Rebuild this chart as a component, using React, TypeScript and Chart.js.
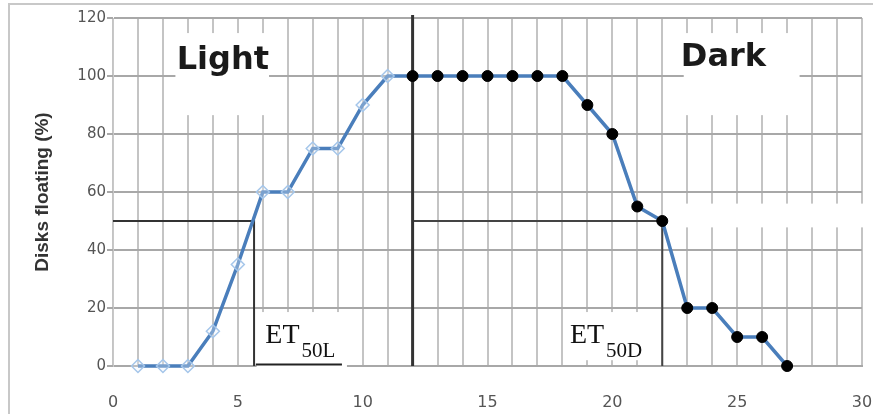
import React, { useEffect, useRef } from 'react';
import { Chart, registerables } from 'chart.js';

Chart.register(...registerables);

// ---- data ----
const timeLight = [1, 2, 3, 4, 5, 6, 7, 8, 9, 10, 11];
const floatLight = [0, 0, 0, 12, 35, 60, 60, 75, 75, 90, 100];
const timeDark = [12, 13, 14, 15, 16, 17, 18, 19, 20, 21, 22, 23, 24, 25, 26, 27];
const floatDark = [100, 100, 100, 100, 100, 100, 100, 90, 80, 55, 50, 20, 20, 10, 10, 0];
const xTickLabels = [0, 5, 10, 15, 20, 25, 30];
const yTickLabels = [0, 20, 40, 60, 80, 100, 120];
const lightsOffAt = 12;
const et50Light = 5.65;
const et50Dark = 22;
const halfFloat = 50;

const FONT = '"DejaVu Sans", sans-serif';

const labelPlugin = {
  id: 'labels',
  beforeDraw(chart: any) {
    const ctx = chart.ctx;
    ctx.save();
    ctx.fillStyle = '#c8c8c8';
    ctx.fillRect(8, 3, 2, 411);
    ctx.fillRect(8, 3, 865, 2);
    ctx.restore();
  },
  beforeDatasetsDraw(chart: any) {
    const ctx = chart.ctx;
    const xs = chart.scales.x;
    const ys = chart.scales.y;
    const box = (x0: number, x1: number, y0: number, y1: number) => {
      const px0 = xs.getPixelForValue(x0);
      const px1 = xs.getPixelForValue(x1);
      const py0 = ys.getPixelForValue(y0);
      const py1 = ys.getPixelForValue(y1);
      ctx.fillRect(px0, py1, px1 - px0, py0 - py1);
    };
    ctx.save();
    ctx.fillStyle = '#ffffff';
    box(2.5, 6.25, 86.5, 114.8);
    box(22.86, 27.5, 86.5, 114.8);
    box(5.75, 9.37, -1.2, 18.6);
    box(18.3, 21.2, 2, 18.6);
    box(22.15, 30.4, 47.8, 56);

    ctx.fillStyle = '#1a1a1a';
    ctx.font = 'bold 32px "DejaVu Sans", sans-serif';
    ctx.textAlign = 'center';
    ctx.textBaseline = 'alphabetic';
    ctx.fillText('Light', xs.getPixelForValue(4.4), ys.getPixelForValue(102.5));
    ctx.fillText('Dark', xs.getPixelForValue(24.45), ys.getPixelForValue(103.5));

    ctx.textAlign = 'left';
    const et = (x: number, sub: string) => {
      const px = xs.getPixelForValue(x);
      const py = ys.getPixelForValue(7.9);
      ctx.font = '28px "Liberation Serif", serif';
      ctx.fillText('ET', px, py);
      const w = ctx.measureText('ET').width;
      ctx.font = '21px "Liberation Serif", serif';
      ctx.fillText(sub, px + w + 2, py + 14);
    };
    ctx.fillStyle = '#111';
    et(6.1, '50L');
    et(18.3, '50D');
    ctx.restore();
  },
};

export default function App() {
  const ref = useRef<HTMLCanvasElement | null>(null);
  useEffect(() => {
    if (!ref.current) return;
    const lightPts = timeLight.map((t, i) => ({ x: t, y: floatLight[i] }));
    const darkPts = timeDark.map((t, i) => ({ x: t, y: floatDark[i] }));
    const chart = new Chart(ref.current, {
      type: 'scatter',
      data: {
        datasets: [
          {
            label: 'light markers',
            data: lightPts,
            showLine: false,
            pointStyle: 'rectRot',
            pointRadius: 6.5,
            pointBorderColor: '#a5c6ea',
            pointBackgroundColor: 'rgba(235,243,252,0.3)',
            pointBorderWidth: 1.5,
            order: 0,
          },
          {
            label: 'dark markers',
            data: darkPts,
            showLine: false,
            pointStyle: 'circle',
            pointRadius: 5.5,
            pointBorderColor: '#000',
            pointBackgroundColor: '#000',
            pointBorderWidth: 1,
            order: 0,
          },
          {
            label: 'curve',
            data: [...lightPts, ...darkPts],
            showLine: true,
            borderColor: '#4a7ebb',
            borderWidth: 3.5,
            pointRadius: 0,
            order: 1,
          },
          {
            label: 'lights off',
            data: [{ x: lightsOffAt, y: 0 }, { x: lightsOffAt, y: 121 }],
            showLine: true,
            borderColor: '#333',
            borderWidth: 3,
            pointRadius: 0,
            order: 2,
          },
          {
            label: 'ET50L',
            data: [{ x: 0, y: halfFloat }, { x: et50Light, y: halfFloat }, { x: et50Light, y: 0 }],
            showLine: true,
            borderColor: '#333',
            borderWidth: 2,
            pointRadius: 0,
            order: 2,
          },
          {
            label: 'ET50L underline',
            data: [{ x: 5.72, y: 0.5 }, { x: 9.17, y: 0.5 }],
            showLine: true,
            borderColor: '#222',
            borderWidth: 2,
            pointRadius: 0,
            order: 2,
          },
          {
            label: 'ET50D',
            data: [{ x: lightsOffAt, y: halfFloat }, { x: et50Dark, y: halfFloat }, { x: et50Dark, y: 0 }],
            showLine: true,
            borderColor: '#444',
            borderWidth: 2,
            pointRadius: 0,
            order: 2,
          },
        ],
      },
      options: {
        animation: false,
        responsive: true,
        maintainAspectRatio: false,
        clip: false as any,
        layout: { padding: { left: 0, right: 11, top: 18, bottom: 0 } },
        plugins: { legend: { display: false }, tooltip: { enabled: false } },
        scales: {
          x: {
            type: 'linear',
            min: 0,
            max: 30,
            afterFit: (s: any) => {
              s.height = 48;
              s.paddingLeft = 5;
              s.paddingRight = 9;
            },
            afterBuildTicks: (s: any) => {
              const t = [];
              for (let v = 0; v <= 30; v++) t.push({ value: v });
              s.ticks = t;
            },
            ticks: {
              autoSkip: false,
              maxRotation: 0,
              padding: 27,
              color: '#555',
              font: { family: FONT, size: 16 },
              callback: (v: any) => (xTickLabels.includes(Number(v)) ? String(v) : ''),
            },
            grid: { color: '#c4c4c4', lineWidth: 2, drawTicks: false },
            border: { display: true, color: '#a8a8a8', width: 2 },
          },
          y: {
            type: 'linear',
            min: 0,
            max: 120,
            afterFit: (s: any) => { s.width = 113; },
            afterBuildTicks: (s: any) => { s.ticks = yTickLabels.map((v) => ({ value: v })); },
            ticks: {
              padding: 1,
              color: '#555',
              font: { family: FONT, size: 15 },
            },
            grid: { color: '#a8a8a8', lineWidth: 2, tickLength: 6 },
            border: { display: true, color: '#c8c8c8', width: 1 },
            title: {
              display: true,
              text: 'Disks floating (%)',
              color: '#333',
              font: { family: '"Liberation Sans", sans-serif', size: 19, weight: 'bold' },
              padding: { top: 31, bottom: 0 },
            },
          },
        },
      },
      plugins: [labelPlugin],
    } as any);
    return () => chart.destroy();
  }, []);
  return (
    <div style={{ position: 'absolute', left: 0, top: 0, width: 873, height: 414, background: '#fff' }}>
      <canvas ref={ref} />
    </div>
  );
}
